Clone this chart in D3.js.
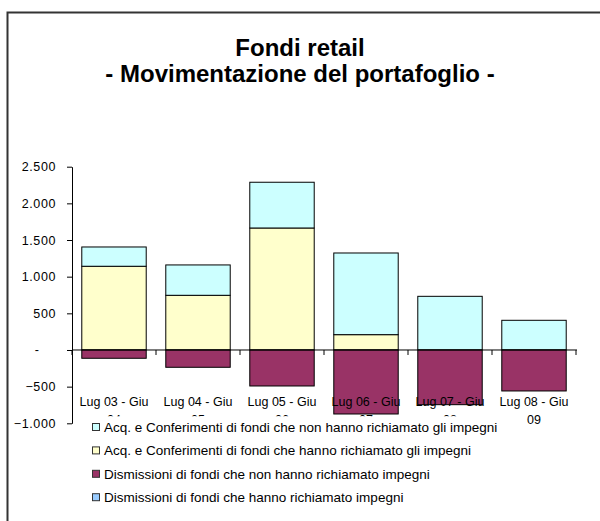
<!DOCTYPE html>
<html>
<head>
<meta charset="utf-8">
<script src="https://cdn.jsdelivr.net/npm/d3@7"></script>
<style>
  body { margin: 0; background: #fff; }
  svg { font-family: "Liberation Sans", Arial, sans-serif; }
</style>
</head>
<body>
<div id="chart"></div>
<script>
'use strict';
// periods on the x axis
var categories = ['Lug 03 - Giu 04', 'Lug 04 - Giu 05', 'Lug 05 - Giu 06', 'Lug 06 - Giu 07', 'Lug 07 - Giu 08', 'Lug 08 - Giu 09'];
// series values
var acqNonImpegni = [263, 414, 624, 1114, 732, 405];
var acqImpegni = [1142, 746, 1664, 209, 0, 0];
var dismNonImpegni = [-113, -236, -491, -873, -746, -559];
var dismImpegni = [0, 0, 0, 0, 0, 0];
var yTicks = [-1000, -500, 0, 500, 1000, 1500, 2000, 2500];

var seriesNames = [
  'Acq. e Conferimenti di fondi che non hanno richiamato gli impegni',
  'Acq. e Conferimenti di fondi che hanno richiamato gli impegni',
  'Dismissioni di fondi che non hanno richiamato impegni',
  'Dismissioni di fondi che hanno richiamato impegni'
];
var seriesColors = ['#CCFFFF', '#FFFFCC', '#993366', '#99CCFF'];

var width = 600, height = 521;
var svg = d3.select('#chart').append('svg')
  .attr('width', width)
  .attr('height', height);

// outer frame
svg.append('rect')
  .attr('x', 7.5).attr('y', 12.5)
  .attr('width', 610).attr('height', 530)
  .attr('fill', '#fff')
  .attr('stroke', '#333')
  .attr('stroke-width', 2);

// title
var title = svg.append('text')
  .attr('text-anchor', 'middle')
  .attr('font-weight', 'bold')
  .attr('font-size', 24);
title.append('tspan').attr('x', 300).attr('y', 56).text('Fondi retail');
title.append('tspan').attr('x', 300).attr('y', 82).text('- Movimentazione del portafoglio -');

var x = d3.scaleBand().domain(categories).range([72, 576]).padding(0);
var y = d3.scaleLinear().domain([-1000, 2500]).range([423.3, 166.7]);
var barW = x.bandwidth() * 0.767;

var table = categories.map(function(c, i) {
  return { cat: c, acqImp: acqImpegni[i], acqNon: acqNonImpegni[i], dismNon: dismNonImpegni[i], dismImp: dismImpegni[i] };
});
var keys = ['acqImp', 'acqNon', 'dismNon', 'dismImp'];
var keyColor = { acqNon: seriesColors[0], acqImp: seriesColors[1], dismNon: seriesColors[2], dismImp: seriesColors[3] };

var stacked = d3.stack().keys(keys).offset(d3.stackOffsetDiverging)(table);

// y axis
var loc = d3.formatLocale({ decimal: ',', thousands: '.', grouping: [3], currency: ['', ''] });
var fmt = loc.format(',d');
var yAxis = svg.append('g')
  .attr('transform', 'translate(72,0)')
  .call(d3.axisLeft(y).tickValues(yTicks).tickSize(5).tickPadding(11).tickSizeOuter(0)
    .tickFormat(function(d) { return d === 0 ? '-' : fmt(d); }));
yAxis.select('.domain').attr('stroke', '#000');
yAxis.selectAll('.tick line').attr('stroke', '#000');
yAxis.selectAll('.tick text')
  .attr('font-size', 12.5)
  .attr('letter-spacing', 0.6)
  .attr('font-family', '"Liberation Sans", Arial, sans-serif')
  .attr('fill', '#000')
  .filter(function(d) { return d === 0; })
  .attr('text-anchor', 'middle')
  .attr('x', -35);

// bars
svg.append('g').selectAll('g')
  .data(stacked)
  .enter().append('g')
  .attr('fill', function(s) { return keyColor[s.key]; })
  .selectAll('rect')
  .data(function(s) { return s; })
  .enter().append('rect')
  .filter(function(d) { return d[1] - d[0] !== 0; })
  .attr('x', function(d) { return x(d.data.cat) + (x.bandwidth() - barW) / 2; })
  .attr('width', barW)
  .attr('y', function(d) { return y(d[1]); })
  .attr('height', function(d) { return y(d[0]) - y(d[1]); })
  .attr('stroke', '#000')
  .attr('stroke-width', 1);

// x axis line at zero with ticks between categories
var xAxis = svg.append('g');
xAxis.append('line')
  .attr('x1', 72).attr('x2', 577)
  .attr('y1', y(0)).attr('y2', y(0))
  .attr('stroke', '#000');
xAxis.selectAll('line.tk')
  .data(categories.concat(['end']))
  .enter().append('line')
  .attr('class', 'tk')
  .attr('x1', function(d, i) { return 72 + i * x.step(); })
  .attr('x2', function(d, i) { return 72 + i * x.step(); })
  .attr('y1', y(0)).attr('y2', y(0) + 5)
  .attr('stroke', '#000');

// the legend box hides the lower part of the wrapped labels, except the last one
var defs = svg.append('defs');
var clip = defs.append('clipPath').attr('id', 'labelClip');
clip.append('rect').attr('x', 0).attr('y', 0).attr('width', width).attr('height', 416.5);
clip.append('rect').attr('x', 512).attr('y', 0).attr('width', 100).attr('height', height);

// category labels (two lines, at the bottom of the plot)
var labels = svg.append('g')
  .attr('clip-path', 'url(#labelClip)')
  .selectAll('text')
  .data(categories)
  .enter().append('text')
  .attr('text-anchor', 'middle')
  .attr('font-size', 12.5)
  .attr('fill', '#000');
labels.each(function(d) {
  var cut = d.lastIndexOf(' ');
  var t = d3.select(this);
  var cx = x(d) + x.bandwidth() / 2;
  t.append('tspan').attr('x', cx).attr('y', 405.5).text(d.slice(0, cut));
  t.append('tspan').attr('x', cx).attr('y', 423.5).text(d.slice(cut + 1));
});

// legend
var legend = svg.append('g');
legend.append('rect')
  .attr('x', 82).attr('y', 416.5)
  .attr('width', 430).attr('height', 90)
  .attr('fill', '#fff');
var item = legend.selectAll('g.item')
  .data(seriesNames)
  .enter().append('g')
  .attr('class', 'item')
  .attr('transform', function(d, i) { return 'translate(92,' + (427 + i * 23.4) + ')'; });
item.append('rect')
  .attr('x', 0.5).attr('y', -3.5)
  .attr('width', 7).attr('height', 7)
  .attr('fill', function(d, i) { return seriesColors[i]; })
  .attr('stroke', '#333');
item.append('text')
  .attr('x', 12).attr('y', 5)
  .attr('font-size', 13.5)
  .attr('fill', '#000')
  .text(function(d) { return d; });
</script>
</body>
</html>
